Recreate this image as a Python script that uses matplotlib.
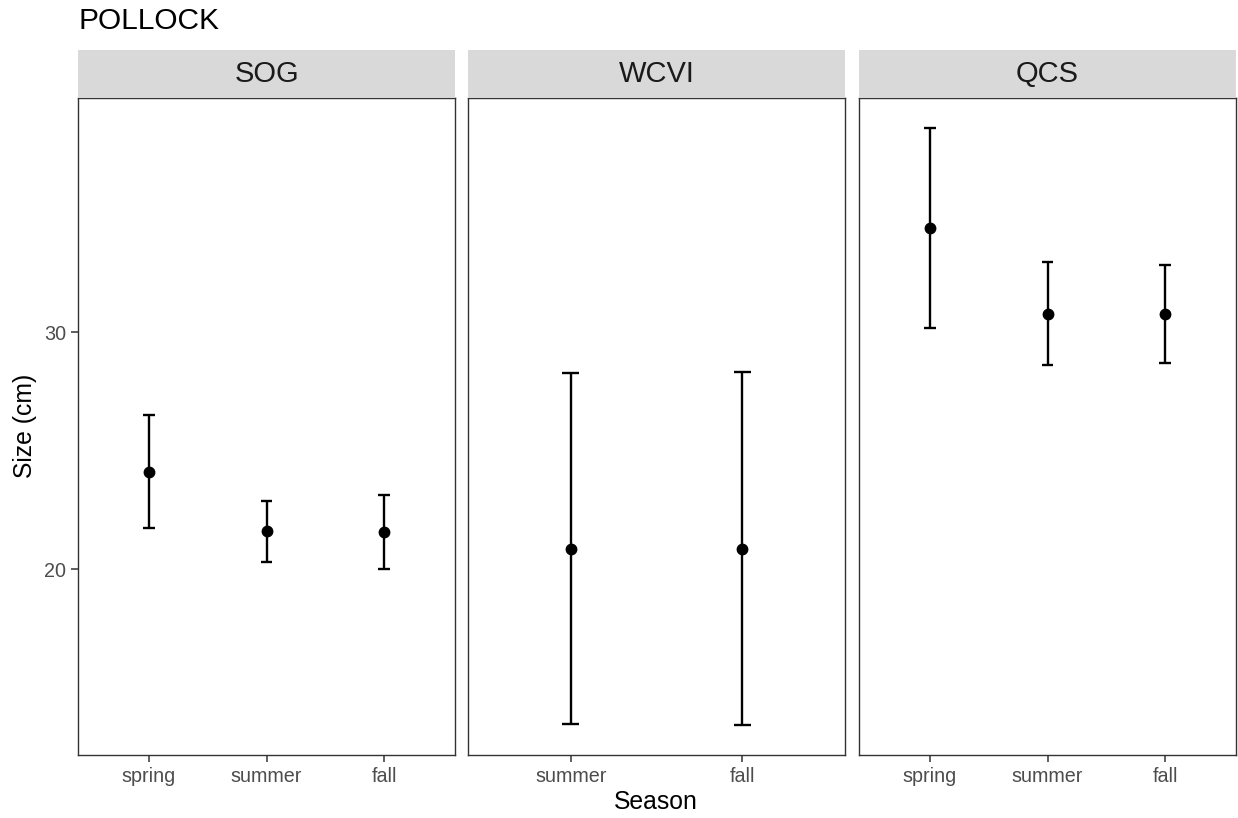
import matplotlib
matplotlib.use("Agg")
import matplotlib.pyplot as plt
import numpy as np

plt.rcParams['font.family'] = ['Liberation Sans', 'DejaVu Sans']

# data
regions = ["SOG", "WCVI", "QCS"]

sog_seasons = ["spring", "summer", "fall"]
sog_mean = [24.12, 21.59, 21.57]
sog_lower = [21.73, 20.31, 20.00]
sog_upper = [26.51, 22.88, 23.14]

wcvi_seasons = ["summer", "fall"]
wcvi_mean = [20.86, 20.86]
wcvi_lower = [13.46, 13.40]
wcvi_upper = [28.30, 28.32]

qcs_seasons = ["spring", "summer", "fall"]
qcs_mean = [34.43, 30.80, 30.80]
qcs_lower = [30.19, 28.63, 28.69]
qcs_upper = [38.65, 32.97, 32.87]

panels = {
    "SOG": (sog_seasons, sog_mean, sog_lower, sog_upper),
    "WCVI": (wcvi_seasons, wcvi_mean, wcvi_lower, wcvi_upper),
    "QCS": (qcs_seasons, qcs_mean, qcs_lower, qcs_upper),
}

W, H = 1238, 818
fig = plt.figure(figsize=(W / 100, H / 100), dpi=100)

# shared y scale, ggplot style 5% expansion
all_lo = min(min(v[2]) for v in panels.values())
all_hi = max(max(v[3]) for v in panels.values())
pad = 0.05 * (all_hi - all_lo)
ylim = (all_lo - pad, all_hi + pad)

lefts = [78, 468, 859]
pw = 377
top, bottom = 98, 755
strip_top = 49.5
border = "#333333"

for i, (reg, left) in enumerate(zip(regions, lefts)):
    seasons, mean, lower, upper = panels[reg]
    ax = fig.add_axes([left / W, 1 - bottom / H, pw / W, (bottom - top) / H])
    x = np.arange(1, len(seasons) + 1)
    ax.vlines(x, lower, upper, color="black", lw=1.7, zorder=2)
    ax.hlines(lower, x - 0.05, x + 0.05, color="black", lw=1.7, zorder=2)
    ax.hlines(upper, x - 0.05, x + 0.05, color="black", lw=1.7, zorder=2)
    ax.plot(x, mean, "o", color="black", ms=7.5, zorder=3)
    ax.set_xlim(0.4, len(seasons) + 0.6)
    ax.set_ylim(*ylim)
    ax.set_xticks(x)
    ax.set_xticklabels(seasons)
    ax.set_yticks([20, 30])
    if i > 0:
        ax.tick_params(axis="y", left=False, labelleft=False)
    ax.tick_params(axis="both", color=border, length=5, width=1.1,
                   labelcolor="#4D4D4D", labelsize=14.2, pad=3.5)
    for sp in ax.spines.values():
        sp.set_color(border)
        sp.set_linewidth(1.0)

    # facet strip
    sax = fig.add_axes([left / W, 1 - top / H, pw / W, (top - strip_top) / H])
    sax.set_facecolor("#D9D9D9")
    sax.set_xticks([])
    sax.set_yticks([])
    for sp in sax.spines.values():
        sp.set_visible(False)
    sax.text(0.5, 0.5, reg, ha="center", va="center", fontsize=21,
             color="#1A1A1A", transform=sax.transAxes)

fig.text(78 / W, 1 - 21 / H, "POLLOCK", ha="left", va="center", fontsize=21.5)
fig.text(656 / W, 1 - 802 / H, "Season", ha="center", va="center", fontsize=17.8)
fig.text(25 / W, 1 - 426 / H, "Size (cm)", ha="center", va="center",
         fontsize=17.8, rotation=90)

fig.savefig("out.png", dpi=100)
